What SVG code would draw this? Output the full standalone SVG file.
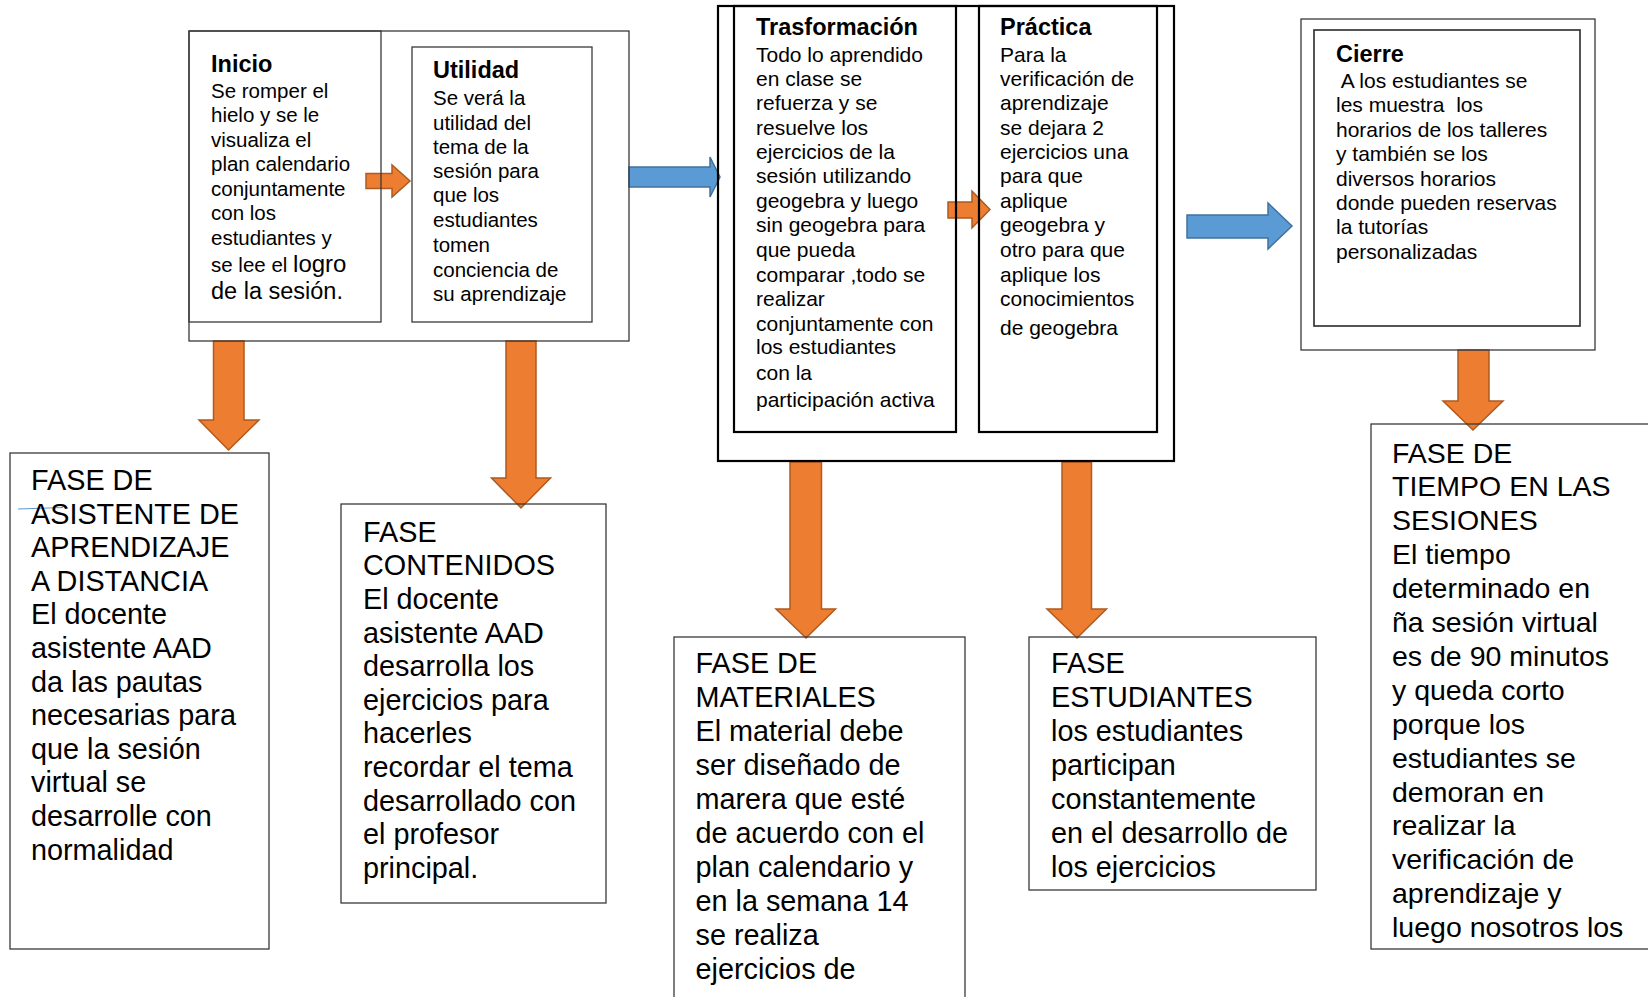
<svg xmlns="http://www.w3.org/2000/svg" width="1648" height="997" viewBox="0 0 1648 997">
  <style>
    .box { fill: none; stroke: #3a3a3a; stroke-width: 1.3; }
    .heavy { fill: none; stroke: #000; stroke-width: 2.2; }
    .mid { fill: none; stroke: #2a2a2a; stroke-width: 1.6; }
    .txt { font-family: "Liberation Sans", Arial, Helvetica, sans-serif; fill: #000; }
    .body { font-size: 20.5px; }
    .body21 { font-size: 21px; }
    .ttl { font-size: 23.5px; font-weight: bold; }
    .big { font-size: 28.8px; }
    .orange { fill: #ED7D31; stroke: #AE5A21; stroke-width: 1.5; stroke-linejoin: miter; }
    .blue { fill: #5B9BD5; stroke: #41719C; stroke-width: 1.5; stroke-linejoin: miter; }
  </style>
  <rect width="1648" height="997" fill="#fff"/>

  <!-- block arrows between the stages -->
  <g id="connectors">
    <path class="orange" d="M366,173.5 H392 V165 L410,181 L392,197 V188.5 H366 Z"/>
    <path class="blue" d="M629,167 H710 V157 L720,177 L710,197 V187 H629 Z"/>
    <path class="orange" d="M948,202 H972 V191 L990,209.5 L972,228 V218 H948 Z"/>
    <path class="blue" d="M1187,215 H1268 V203 L1292,226 L1268,249 V238 H1187 Z"/>
    <path class="orange" d="M213.5,341 V420 H199 L228.5,450 L259,420 H244 V341 Z"/>
    <path class="orange" d="M506,341 V478 H491.5 L521,508 L550.5,478 H536 V341 Z"/>
    <path class="orange" d="M790,462 V609 H776 L806,638 L835.5,609 H821.5 V462 Z"/>
    <path class="orange" d="M1062,462 V609 H1047 L1077,638 L1106.5,609 H1091.5 V462 Z"/>
    <path class="orange" d="M1458,350 V401 H1443 L1473,430 L1503,401 H1489 V350 Z"/>
    <line x1="18" y1="509" x2="63" y2="507.5" stroke="#5B9BD5" stroke-width="1.2"/>
  </g>

  <!-- first stage frame holding Inicio and Utilidad -->
  <g id="frame-inicio-utilidad">
    <rect class="box" x="189" y="31" width="440" height="310"/>
  </g>

  <g id="inicio">
    <rect class="box" x="189" y="31" width="192" height="291"/>
    <text class="txt ttl" x="211" y="72">Inicio</text>
    <text class="txt body">
      <tspan x="211" y="97.7">Se romper el</tspan>
      <tspan x="211" y="122">hielo y se le</tspan>
      <tspan x="211" y="146.5">visualiza el</tspan>
      <tspan x="211" y="171">plan calendario</tspan>
      <tspan x="211" y="195.5">conjuntamente</tspan>
      <tspan x="211" y="220">con los</tspan>
      <tspan x="211" y="245">estudiantes y</tspan>
      <tspan x="211" y="271.5">se lee el <tspan style="font-size:24px">logro</tspan></tspan>
      <tspan x="211" y="299" style="font-size:23.5px">de la sesión.</tspan>
    </text>
  </g>

  <g id="utilidad">
    <rect class="box" x="412" y="47" width="180" height="275"/>
    <text class="txt ttl" x="433" y="78.3">Utilidad</text>
    <text class="txt body">
      <tspan x="433" y="105">Se verá la</tspan>
      <tspan x="433" y="129.5">utilidad del</tspan>
      <tspan x="433" y="153.5">tema de la</tspan>
      <tspan x="433" y="178">sesión para</tspan>
      <tspan x="433" y="202">que los</tspan>
      <tspan x="433" y="226.5">estudiantes</tspan>
      <tspan x="433" y="251.5">tomen</tspan>
      <tspan x="433" y="276.5">conciencia de</tspan>
      <tspan x="433" y="301">su aprendizaje</tspan>
    </text>
  </g>

  <!-- second stage frame holding Trasformación and Práctica -->
  <g id="frame-trasformacion-practica">
    <rect class="heavy" x="718" y="6" width="456" height="455"/>
  </g>

  <g id="trasformacion">
    <rect class="heavy" x="734" y="6" width="222" height="426"/>
    <text class="txt ttl" x="756" y="35">Trasformación</text>
    <text class="txt body21">
      <tspan x="756" y="62">Todo lo aprendido</tspan>
      <tspan x="756" y="86">en clase se</tspan>
      <tspan x="756" y="110">refuerza y se</tspan>
      <tspan x="756" y="134.5">resuelve los</tspan>
      <tspan x="756" y="159">ejercicios de la</tspan>
      <tspan x="756" y="183">sesión utilizando</tspan>
      <tspan x="756" y="208">geogebra y luego</tspan>
      <tspan x="756" y="232">sin geogebra para</tspan>
      <tspan x="756" y="257">que pueda</tspan>
      <tspan x="756" y="282">comparar ,todo se</tspan>
      <tspan x="756" y="306">realizar</tspan>
      <tspan x="756" y="331">conjuntamente con</tspan>
      <tspan x="756" y="354">los estudiantes</tspan>
      <tspan x="756" y="380">con la</tspan>
      <tspan x="756" y="407">participación activa</tspan>
    </text>
  </g>

  <g id="practica">
    <rect class="heavy" x="979" y="6" width="178" height="426"/>
    <text class="txt ttl" x="1000" y="35">Práctica</text>
    <text class="txt body21">
      <tspan x="1000" y="62">Para la</tspan>
      <tspan x="1000" y="86">verificación de</tspan>
      <tspan x="1000" y="110">aprendizaje</tspan>
      <tspan x="1000" y="134.5">se dejara 2</tspan>
      <tspan x="1000" y="159">ejercicios una</tspan>
      <tspan x="1000" y="183">para que</tspan>
      <tspan x="1000" y="208">aplique</tspan>
      <tspan x="1000" y="232">geogebra y</tspan>
      <tspan x="1000" y="257">otro para que</tspan>
      <tspan x="1000" y="282">aplique los</tspan>
      <tspan x="1000" y="306">conocimientos</tspan>
      <tspan x="1000" y="335">de geogebra</tspan>
    </text>
  </g>

  <!-- closing stage -->
  <g id="cierre">
    <rect class="box" x="1301" y="19" width="294" height="331"/>
    <rect class="mid" x="1314" y="30" width="266" height="296"/>
    <text class="txt ttl" x="1336" y="62">Cierre</text>
    <text class="txt body21" xml:space="preserve"><tspan x="1336" y="88"> A los estudiantes se</tspan><tspan x="1336" y="112">les muestra  los</tspan><tspan x="1336" y="137">horarios de los talleres</tspan><tspan x="1336" y="161">y también se los</tspan><tspan x="1336" y="186">diversos horarios</tspan><tspan x="1336" y="210">donde pueden reservas</tspan><tspan x="1336" y="234">la tutorías</tspan><tspan x="1336" y="259">personalizadas</tspan></text>
  </g>

  <!-- phase boxes -->
  <g id="fase-asistente">
    <rect class="box" x="10" y="453" width="259" height="496"/>
    <text class="txt big">
      <tspan x="31" y="490">FASE DE</tspan>
      <tspan x="31" y="523.6">ASISTENTE DE</tspan>
      <tspan x="31" y="557.2">APRENDIZAJE</tspan>
      <tspan x="31" y="590.8">A DISTANCIA</tspan>
      <tspan x="31" y="624.4">El docente</tspan>
      <tspan x="31" y="658">asistente AAD</tspan>
      <tspan x="31" y="691.6">da las pautas</tspan>
      <tspan x="31" y="725.2">necesarias para</tspan>
      <tspan x="31" y="758.8">que la sesión</tspan>
      <tspan x="31" y="792.4">virtual se</tspan>
      <tspan x="31" y="826">desarrolle con</tspan>
      <tspan x="31" y="859.6">normalidad</tspan>
    </text>
  </g>

  <g id="fase-contenidos">
    <rect class="box" x="341" y="504" width="265" height="399"/>
    <text class="txt big">
      <tspan x="363" y="541.5">FASE</tspan>
      <tspan x="363" y="575.2">CONTENIDOS</tspan>
      <tspan x="363" y="608.8">El docente</tspan>
      <tspan x="363" y="642.5">asistente AAD</tspan>
      <tspan x="363" y="676.1">desarrolla los</tspan>
      <tspan x="363" y="709.8">ejercicios para</tspan>
      <tspan x="363" y="743.4">hacerles</tspan>
      <tspan x="363" y="777.1">recordar el tema</tspan>
      <tspan x="363" y="810.7">desarrollado con</tspan>
      <tspan x="363" y="844.4">el profesor</tspan>
      <tspan x="363" y="878">principal.</tspan>
    </text>
  </g>

  <g id="fase-materiales">
    <rect class="box" x="674" y="637" width="291" height="380"/>
    <text class="txt big">
      <tspan x="695.5" y="673">FASE DE</tspan>
      <tspan x="695.5" y="707">MATERIALES</tspan>
      <tspan x="695.5" y="741">El material debe</tspan>
      <tspan x="695.5" y="775">ser diseñado de</tspan>
      <tspan x="695.5" y="809">marera que esté</tspan>
      <tspan x="695.5" y="843">de acuerdo con el</tspan>
      <tspan x="695.5" y="877">plan calendario y</tspan>
      <tspan x="695.5" y="911">en la semana 14</tspan>
      <tspan x="695.5" y="945">se realiza</tspan>
      <tspan x="695.5" y="979">ejercicios de</tspan>
    </text>
  </g>

  <g id="fase-estudiantes">
    <rect class="box" x="1029" y="637" width="287" height="253"/>
    <text class="txt big">
      <tspan x="1051" y="673.3">FASE</tspan>
      <tspan x="1051" y="707.3">ESTUDIANTES</tspan>
      <tspan x="1051" y="741.3">los estudiantes</tspan>
      <tspan x="1051" y="775.3">participan</tspan>
      <tspan x="1051" y="809.3">constantemente</tspan>
      <tspan x="1051" y="843.3">en el desarrollo de</tspan>
      <tspan x="1051" y="877.3">los ejercicios</tspan>
    </text>
  </g>

  <g id="fase-tiempo">
    <rect class="box" x="1371" y="424" width="290" height="525"/>
    <text class="txt big" style="font-size:28.5px">
      <tspan x="1392" y="462.5">FASE DE</tspan>
      <tspan x="1392" y="496.4">TIEMPO EN LAS</tspan>
      <tspan x="1392" y="530.3">SESIONES</tspan>
      <tspan x="1392" y="564.2">El tiempo</tspan>
      <tspan x="1392" y="598.1">determinado en</tspan>
      <tspan x="1392" y="632">ña sesión virtual</tspan>
      <tspan x="1392" y="665.9">es de 90 minutos</tspan>
      <tspan x="1392" y="699.8">y queda corto</tspan>
      <tspan x="1392" y="733.7">porque los</tspan>
      <tspan x="1392" y="767.6">estudiantes se</tspan>
      <tspan x="1392" y="801.5">demoran en</tspan>
      <tspan x="1392" y="835.4">realizar la</tspan>
      <tspan x="1392" y="869.3">verificación de</tspan>
      <tspan x="1392" y="903.2">aprendizaje y</tspan>
      <tspan x="1392" y="937.1">luego nosotros los</tspan>
    </text>
  </g>
</svg>
